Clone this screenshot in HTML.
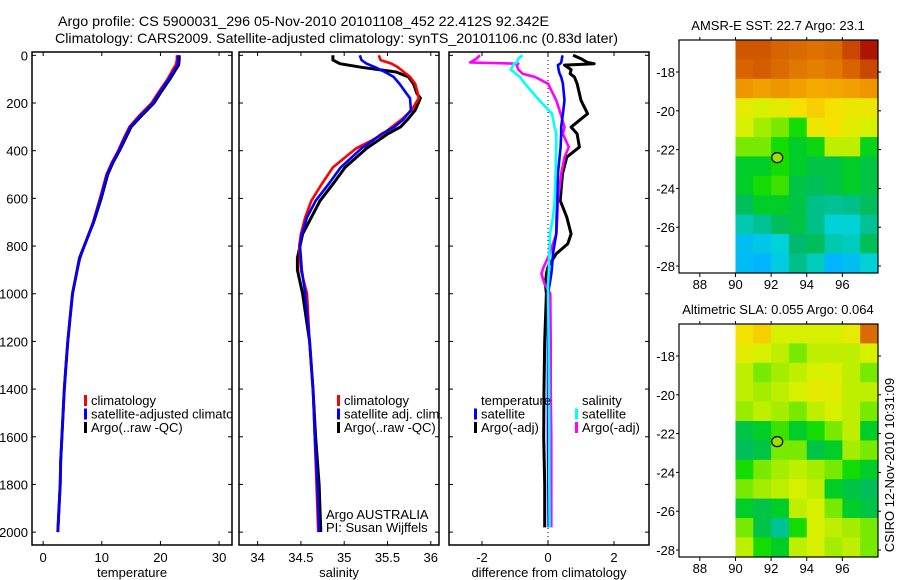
<!DOCTYPE html>
<html><head><meta charset="utf-8"><style>
body{margin:0;background:#fff}
svg{display:block;font-family:"Liberation Sans",sans-serif}
</style></head><body>
<svg id="fig" width="900" height="580" viewBox="0 0 900 580">
<defs><clipPath id="clip1"><rect x="32" y="52" width="200" height="493"/></clipPath></defs>
<g id="titles">
<text x="58" y="26" font-size="14" textLength="491" lengthAdjust="spacingAndGlyphs">Argo profile: CS 5900031_296 05-Nov-2010 20101108_452 22.412S 92.342E</text>
<text x="55" y="43" font-size="14" textLength="563" lengthAdjust="spacingAndGlyphs">Climatology: CARS2009. Satellite-adjusted climatology: synTS_20101106.nc (0.83d later)</text>
</g>
<g id="layer"></g>
</svg>
<script>
// ---------- data ----------
const tDepth = [0,20,40,60,100,150,200,250,300,350,400,450,500,600,700,800,850,900,1000,1100,1200,1300,1400,1500,1600,1700,1800,1900,2000];
const tArgo  = [23.2,23.2,23.1,22.6,21.6,20.2,18.9,16.9,15.0,14.0,13.0,11.9,11.0,9.9,8.6,7.0,6.2,5.8,5.0,4.6,4.2,3.9,3.6,3.4,3.2,3.0,2.9,2.7,2.5];
const tClim  = [22.8,22.8,22.6,22.1,21.2,19.8,18.5,16.5,14.7,13.7,12.8,11.7,10.8,9.7,8.5,7.0,6.3,5.8,5.0,4.6,4.2,3.9,3.6,3.4,3.2,3.0,2.9,2.7,2.5];
const tSat   = [23.0,23.0,22.9,22.4,21.4,20.0,18.7,16.7,14.85,13.85,12.9,11.8,10.9,9.8,8.55,7.0,6.25,5.8,5.0,4.6,4.2,3.9,3.6,3.4,3.2,3.0,2.9,2.7,2.5];

const sDepth = [0,20,35,50,70,90,120,160,180,230,270,300,330,360,390,470,540,610,680,750,800,850,900,1000,1200,1400,1600,1800,2000];
const sArgo  = [34.87,34.87,34.95,35.2,35.6,35.74,35.8,35.84,35.88,35.82,35.73,35.65,35.5,35.38,35.26,35.01,34.87,34.72,34.62,34.52,34.49,34.46,34.46,34.52,34.6,34.64,34.67,34.71,34.73];
const sClim  = [35.4,35.42,35.55,35.62,35.69,35.76,35.82,35.85,35.86,35.78,35.66,35.55,35.45,35.3,35.14,34.87,34.74,34.62,34.55,34.5,34.48,34.49,34.5,34.57,34.6,34.64,34.66,34.68,34.7];
const sSat   = [35.18,35.2,35.26,35.36,35.47,35.57,35.64,35.72,35.76,35.77,35.68,35.58,35.43,35.32,35.2,34.96,34.82,34.67,34.57,34.51,34.49,34.5,34.51,34.55,34.6,34.64,34.66,34.69,34.71];

const dDepth   = [0,14,30,35,41,60,77,91,119,189,245,301,329,385,427,497,609,679,749,790,832,888,916,960,1000,1200,1400,1600,1800,1980];
const dTArgo   = [0.76,1.0,1.2,1.4,0.5,0.7,0.67,0.8,0.88,1.0,1.2,0.7,0.88,0.95,0.57,0.44,0.37,0.57,0.7,0.6,0.25,0,-0.05,-0.08,-0.05,-0.1,-0.12,-0.13,-0.1,-0.1];
const dTSat    = [0.44,0.42,0.4,0.37,0.3,0.32,0.35,0.4,0.45,0.5,0.45,0.4,0.4,0.38,0.35,0.3,0.28,0.26,0.25,0.2,0.15,0.12,0.1,0.05,0,0,0,0,0.01,0.02];
const dSSat    = [-0.77,-0.9,-0.95,-1.03,-1.05,-1.13,-0.97,-0.85,-0.7,-0.26,0.12,0.2,0.25,0.25,0.24,0.23,0.2,0.15,0.06,0.05,0.04,0.03,0.02,0,0,0.02,0.03,0.04,0.04,0.05];
const dSArgo   = [-2.06,-2.17,-2.36,-0.9,-0.95,-0.9,-0.77,-0.39,0,0.25,0.38,0.5,0.45,0.63,0.5,0.4,0.3,0.28,0.25,0.15,0.05,-0.13,-0.2,-0.1,0.07,0.08,0.08,0.1,0.1,0.1];

const depthTicks = [0,200,400,600,800,1000,1200,1400,1600,1800,2000];
const tempTicks = [0,10,20,30];
const salTicks = ["34","34.5","35","35.5","36"];
const diffTicks = [-2,0,2];
const lonTicks = [88,90,92,94,96];
const latTicks = [-18,-20,-22,-24,-26,-28];

const mapLons = [90,91,92,93,94,95,96,97,98];
const mapLats = [-16.35,-17.35,-18.35,-19.35,-20.35,-21.35,-22.35,-23.35,-24.35,-25.35,-26.35,-27.35,-28.36];
const sstGrid = [
[0.88,0.88,0.86,0.85,0.84,0.85,0.9,0.97],
[0.86,0.87,0.85,0.83,0.82,0.83,0.86,0.9],
[0.78,0.76,0.78,0.76,0.74,0.75,0.76,0.78],
[0.65,0.62,0.64,0.68,0.7,0.68,0.66,0.66],
[0.62,0.58,0.55,0.5,0.66,0.68,0.64,0.62],
[0.55,0.55,0.5,0.45,0.48,0.6,0.6,0.47],
[0.45,0.45,0.5,0.45,0.42,0.42,0.45,0.42],
[0.45,0.5,0.52,0.42,0.4,0.42,0.45,0.42],
[0.4,0.45,0.45,0.42,0.36,0.35,0.36,0.4],
[0.33,0.35,0.4,0.42,0.36,0.3,0.3,0.35],
[0.25,0.27,0.3,0.38,0.4,0.33,0.32,0.4],
[0.24,0.22,0.28,0.36,0.32,0.22,0.25,0.3]];
const slaGrid = [
[0.68,0.7,0.62,0.62,0.62,0.62,0.65,0.85],
[0.64,0.62,0.6,0.55,0.6,0.6,0.6,0.62],
[0.6,0.55,0.58,0.6,0.62,0.63,0.6,0.55],
[0.6,0.58,0.6,0.62,0.65,0.64,0.6,0.6],
[0.57,0.6,0.58,0.55,0.6,0.62,0.6,0.55],
[0.42,0.45,0.52,0.45,0.5,0.55,0.6,0.45],
[0.4,0.42,0.55,0.55,0.42,0.45,0.58,0.55],
[0.5,0.55,0.58,0.6,0.58,0.55,0.5,0.45],
[0.55,0.58,0.6,0.62,0.6,0.45,0.42,0.4],
[0.45,0.42,0.45,0.6,0.62,0.55,0.45,0.42],
[0.55,0.42,0.35,0.5,0.62,0.6,0.58,0.55],
[0.6,0.5,0.45,0.6,0.62,0.58,0.6,0.55]];
const argoLon = 92.342, argoLat = -22.412;

// ---------- helpers ----------
const NS = "http://www.w3.org/2000/svg";
const layer = document.getElementById("layer");
function mk(tag, attrs, parent){
  const e = document.createElementNS(NS, tag);
  for (const k in attrs) e.setAttribute(k, attrs[k]);
  (parent||layer).appendChild(e);
  return e;
}
function lin(d0,d1,r0,r1){ return v => r0 + (v-d0)*(r1-r0)/(d1-d0); }

const PY0 = 52, PY1 = 545;
const yD = lin(-14, 2054, PY0, PY1);

function panel(name, x0, x1, xmin, xmax, ticks, tickLabels, xlabel, showY){
  const g = mk("g", {});
  
  
  const xs = lin(xmin, xmax, x0, x1);
  const box = mk("rect", {x:x0, y:PY0, width:x1-x0, height:PY1-PY0, fill:"none", stroke:"#000", "stroke-width":1.5}, g);
  
  
  ticks.forEach((t,i) => {
    const x = xs(+t);
    mk("line", {x1:x, x2:x, y1:PY1, y2:PY1-4, stroke:"#000"}, g);
    mk("line", {x1:x, x2:x, y1:PY0, y2:PY0+4, stroke:"#000"}, g);
    const tl = mk("text", {x:x, y:PY1+17, "font-size":13, "text-anchor":"middle"}, g);
    tl.textContent = tickLabels[i];
    
    
  });
  depthTicks.forEach(d => {
    const y = yD(d);
    mk("line", {x1:x0, x2:x0+4, y1:y, y2:y, stroke:"#000"}, g);
    mk("line", {x1:x1, x2:x1-4, y1:y, y2:y, stroke:"#000"}, g);
    if (showY){
      const tl = mk("text", {x:x0-4, y:y+5, "font-size":13, "text-anchor":"end"}, g);
      tl.textContent = d;
      
      
    }
  });
  const xl = mk("text", {x:(x0+x1)/2, y:577, "font-size":13, "text-anchor":"middle"}, g);
  xl.textContent = xlabel;
  
  
  return {g, xs};
}
function series(p, depths, vals, color, name, w){
  const pts = depths.map((d,i) => p.xs(vals[i]).toFixed(1)+","+yD(d).toFixed(1)).join(" ");
  const l = mk("polyline", {points:pts, fill:"none", stroke:color, "stroke-width":w||2.6, "stroke-linejoin":"round"}, p.g);
  
  
}
function legend(g, x, y, items){
  items.forEach((it,i) => {
    const yy = y + i*13.5;
    if (it[1]) mk("rect", {x:x, y:yy-5, width:3, height:11, fill:it[1]}, g);
    const t = mk("text", {x:x+7, y:yy+5, "font-size":13}, g);
    t.textContent = it[0];
    
    
  });
}

// ---------- temperature panel ----------
const p1 = panel("temperature-panel", 32, 232, -1.9, 32.2, tempTicks, tempTicks.map(String), "temperature", true);
series(p1, tDepth, tArgo, "#000", "argo-temperature-line", 3);
series(p1, tDepth, tClim, "#f00", "climatology-temperature-line");
series(p1, tDepth, tSat, "#00f", "satellite-temperature-line");
const lg1 = mk("g", {"clip-path":"url(#clip1)"}, p1.g);


legend(lg1, 84, 400, [["climatology","#f00"],["satellite-adjusted climatology","#00f"],["Argo(..raw -QC)","#000"]]);

// ---------- salinity panel ----------
const p2 = panel("salinity-panel", 239, 439, 33.785, 36.095, salTicks, salTicks, "salinity", false);
series(p2, sDepth, sArgo, "#000", "argo-salinity-line", 3);
series(p2, sDepth, sClim, "#f00", "climatology-salinity-line");
series(p2, sDepth, sSat, "#00f", "satellite-salinity-line");
legend(p2.g, 337, 400, [["climatology","#f00"],["satellite adj. clim.","#00f"],["Argo(..raw -QC)","#000"]]);
const c1 = mk("text", {x:326, y:519, "font-size":13}, p2.g); c1.textContent = "Argo AUSTRALIA";
 
const c2 = mk("text", {x:326, y:532, "font-size":13}, p2.g); c2.textContent = "PI: Susan Wijffels";
 

// ---------- difference panel ----------
const p3 = panel("difference-panel", 449, 649, -3.0, 3.06, diffTicks, diffTicks.map(String), "difference from climatology", false);
const zx = p3.xs(0);
const zl = mk("line", {x1:zx, x2:zx, y1:PY0, y2:PY1, stroke:"#000", "stroke-dasharray":"1,3"}, p3.g);
 
series(p3, dDepth, dTArgo, "#000", "argo-temp-diff-line", 3);
series(p3, dDepth, dSArgo, "#f0f", "argo-sal-diff-line");
series(p3, dDepth, dTSat, "#00f", "satellite-temp-diff-line");
series(p3, dDepth, dSSat, "#0ff", "satellite-sal-diff-line");
legend(p3.g, 474, 400, [["temperature",null],["satellite","#00f"],["Argo(-adj)","#000"]]);
legend(p3.g, 575, 400, [["salinity",null],["satellite","#0ff"],["Argo(-adj)","#f0f"]]);

// ---------- maps ----------
const stops = [[0.15,[0,150,255]],[0.22,[0,180,255]],[0.3,[0,210,215]],[0.38,[0,185,110]],[0.45,[0,205,40]],[0.5,[20,220,0]],[0.56,[140,235,0]],[0.62,[215,240,0]],[0.68,[245,225,0]],[0.74,[245,170,0]],[0.8,[235,140,0]],[0.86,[215,100,0]],[0.93,[190,50,0]],[1,[160,0,0]]];
function cmap(v){
  if (v <= stops[0][0]) return "rgb("+stops[0][1]+")";
  for (let i=1;i<stops.length;i++){
    if (v <= stops[i][0]){
      const [a,ca] = stops[i-1], [b,cb] = stops[i], f=(v-a)/(b-a);
      return "rgb("+ca.map((c,k)=>Math.round(c+(cb[k]-c)*f)).join(",")+")";
    }
  }
  return "rgb(160,0,0)";
}
function mapPanel(name, y0, y1, grid, title){
  const g = mk("g", {});
  
  
  const x0 = 679, x1 = 878;
  const xs = lin(86.83, 98, x0, x1), ys = lin(-16.35, -28.36, y0, y1);
  const tt = mk("text", {x:778, y:y0-10, "font-size":13, "text-anchor":"middle"}, g);
  tt.textContent = title;
  
  
  grid.forEach((row,r) => row.forEach((v,c) => {
    const xa = xs(mapLons[c]), xb = xs(mapLons[c+1]), ya = ys(mapLats[r]), yb = ys(mapLats[r+1]);
    const cell = mk("rect", {x:xa, y:ya, width:xb-xa+0.5, height:yb-ya+0.5, fill:cmap(v)}, g);
    
    
  }));
  mk("rect", {x:x0, y:y0, width:x1-x0, height:y1-y0, fill:"none", stroke:"#000", "stroke-width":1.2}, g);
  lonTicks.forEach(t => {
    const x = xs(t);
    mk("line", {x1:x, x2:x, y1:y1, y2:y1+4, stroke:"#000"}, g);
    mk("line", {x1:x, x2:x, y1:y0, y2:y0-3, stroke:"#000"}, g);
    const tl = mk("text", {x:x, y:y1+16, "font-size":13, "text-anchor":"middle"}, g);
    tl.textContent = t;
    
    
  });
  latTicks.forEach(t => {
    const y = ys(t);
    mk("line", {x1:x0, x2:x0-3, y1:y, y2:y, stroke:"#000"}, g);
    mk("line", {x1:x1, x2:x1+3, y1:y, y2:y, stroke:"#000"}, g);
    const tl = mk("text", {x:x0-4, y:y+5, "font-size":13, "text-anchor":"end"}, g);
    tl.textContent = t;
    
    
  });
  const m = mk("ellipse", {cx:xs(argoLon), cy:ys(argoLat), rx:5.5, ry:5, fill:"#9be000", stroke:"#000", "stroke-width":1.2}, g);
  
  
}
mapPanel("sst-map", 40, 273, sstGrid, "AMSR-E SST: 22.7 Argo: 23.1");
mapPanel("sla-map", 324, 557, slaGrid, "Altimetric SLA: 0.055 Argo: 0.064");

const ts = mk("text", {x:0, y:0, "font-size":13, "text-anchor":"middle", transform:"translate(894,465) rotate(-90)"});
ts.textContent = "CSIRO 12-Nov-2010 10:31:09";


</script>
</body></html>
